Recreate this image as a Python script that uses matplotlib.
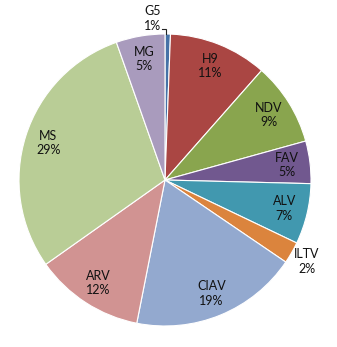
import numpy as np
import matplotlib
matplotlib.use("Agg")
import matplotlib.pyplot as plt

labels = ["G5", "H9", "NDV", "FAV", "ALV", "ILTV", "CIAV", "ARV", "MS", "MG"]
values = [0.6, 10.9, 9.2, 4.7, 6.7, 2.4, 18.6, 12.1, 29.4, 5.4]
pct_labels = ["1%", "11%", "9%", "5%", "7%", "2%", "19%", "12%", "29%", "5%"]
colors = ["#4572A7", "#AA4643", "#89A54E", "#71588F", "#4198AF",
          "#DB843D", "#93A9CF", "#D19392", "#B9CD96", "#A99BBD"]

W, H = 337, 347
cx, cy, R = 165, 180, 146

fig = plt.figure(figsize=(W / 100, H / 100), dpi=100)
ax = fig.add_axes([0, 0, 1, 1])
wedges, _ = ax.pie(values, colors=colors, startangle=90, counterclock=False,
                   radius=1.0, center=(0, 0),
                   wedgeprops=dict(edgecolor="white", linewidth=0.8))
ax.set_xlim(-cx / R, (W - cx) / R)
ax.set_ylim(-(H - cy) / R, cy / R)
ax.set_aspect("equal")
ax.axis("off")

font = dict(family=["Lato", "DejaVu Sans"], fontsize=9, color="#111111")
dist = {"ILTV": 1.12}
for w, name, p in zip(wedges, labels, pct_labels):
    mid = np.deg2rad((w.theta1 + w.theta2) / 2)
    if name == "G5":
        tx, ty = -0.085, 1.105
        ax.text(tx, ty, f"{name}\n{p}", ha="center", va="center",
                linespacing=1.25, **font)
        ax.plot([tx + 0.065, tx + 0.09, tx + 0.09], [ty - 0.07, ty - 0.07, 1.0],
                color="#222222", lw=0.8, solid_joinstyle="miter")
        continue
    d = dist.get(name, 0.84)
    ax.text(d * np.cos(mid), d * np.sin(mid), f"{name}\n{p}", ha="center",
            va="center", linespacing=1.25, **font)

fig.savefig("out.png", dpi=100)
